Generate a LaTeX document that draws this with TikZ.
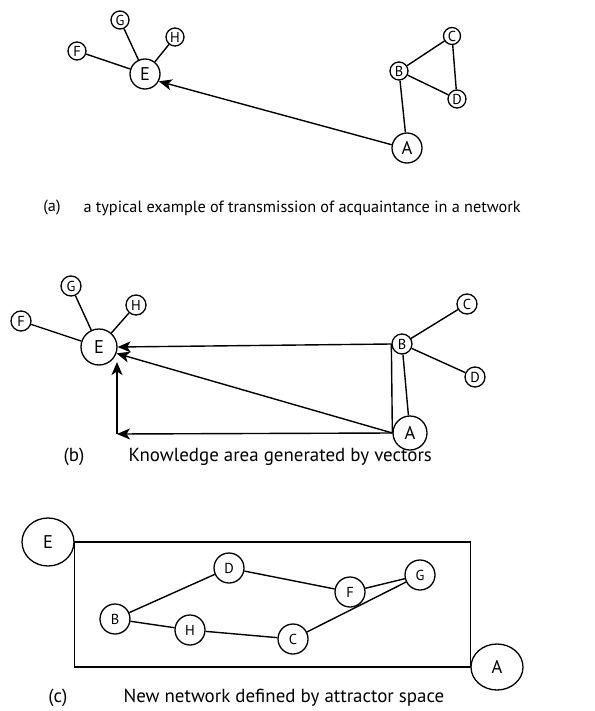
\documentclass[tikz,border=0pt]{standalone}
\usepackage{fontspec}
\setmainfont{PT Sans}
\usetikzlibrary{arrows.meta,shapes.geometric}
\begin{document}
\begin{tikzpicture}[x=1bp,y=-1bp,
  vtx/.style={circle,draw,line width=1.3bp,inner sep=0pt,minimum size=#1},
  sv/.style={vtx=#1,font=\fontsize{14.5}{14.5}\selectfont},
  bv/.style={vtx=#1,font=\fontsize{18.5}{18.5}\selectfont},
  ov/.style={ellipse,draw,line width=1.3bp,inner sep=0pt,font=\fontsize{18.5}{18.5}\selectfont},
  link/.style={line width=1.4bp},
  arr/.style={link,-{Stealth[length=13bp,width=11bp,inset=3.5bp]}},
  capsmall/.style={font=\fontsize{16.3}{16.3}\selectfont},
  capbig/.style={font=\fontsize{19}{19}\selectfont},
]
\useasboundingbox (0,0) rectangle (595,711);

% ---- (a) transmission of acquaintance ----
\node[bv=30bp] (aE) at (145,74) {E};
\node[sv=18bp] (aF) at (77,51) {F};
\node[sv=18bp] (aG) at (120,20) {G};
\node[sv=18bp] (aH) at (175,37) {H};
\node[sv=18bp] (aB) at (399,71) {B};
\node[sv=17bp] (aC) at (452,36) {C};
\node[sv=18bp] (aD) at (457,99) {D};
\node[bv=30bp] (aA) at (407,148) {A};
\draw[link] (aE) -- (aF);
\draw[link] (aE) -- (aG);
\draw[link] (aE) -- (aH);
\draw[link] (aB) -- (aC);
\draw[link] (aB) -- (aD);
\draw[link] (aC) -- (aD);
\draw[link] (aB) -- (aA);
\draw[arr] (aA.168) -- (aE.-28);
\node[capsmall] (capa) at (52,208) {(a)};
\node[capsmall,anchor=west] (capatxt) at (80,208) {a typical example of transmission of acquaintance in a network};

% ---- (b) knowledge area ----
\node[bv=36bp] (bE) at (99,347) {E};
\node[sv=20bp] (bF) at (21,321) {F};
\node[sv=20bp] (bG) at (71,286) {G};
\node[sv=20bp] (bH) at (136,305) {H};
\node[sv=20bp] (bB) at (402,344) {B};
\node[sv=20bp] (bC) at (467,304) {C};
\node[sv=20bp] (bD) at (475,377) {D};
\node[bv=34bp] (bA) at (410,433) {A};
\coordinate (bcorner) at (117,434);
\coordinate (bup) at (117,362);
\draw[link] (bE) -- (bF);
\draw[link] (bE) -- (bG);
\draw[link] (bE) -- (bH);
\draw[link] (bB) -- (bC);
\draw[link] (bB) -- (bD);
\draw[link] (bB) -- (bA);
\draw[link] (bB.west) -- (bA.west);
\draw[arr] (bB.west) -- (bE.east);
\draw[arr] (bA.west) -- (bE.-20);
\draw[arr] (bA.west) -- (bcorner);
\draw[arr] (bcorner) -- (bup);
\node[capbig] (capb) at (74,457) {(b)};
\node[capbig,anchor=west] (capbtxt) at (125,457) {Knowledge area generated by vectors};

% ---- (c) attractor space ----
\node[ov,minimum width=52bp,minimum height=48bp] (cE) at (48,542) {E};
\node[ov,minimum width=52bp,minimum height=46bp] (cA) at (497,667) {A};
\node[sv=30bp] (cB) at (115,619) {B};
\node[sv=30bp] (cD) at (229,568) {D};
\node[sv=30bp] (cH) at (190,630) {H};
\node[sv=30bp] (cC) at (293,639) {C};
\node[sv=30bp] (cF) at (350,592) {F};
\node[sv=30bp] (cG) at (420,575) {G};
\draw[link] (cE.east) -- (cE.east -| cA.west) -- (cA.west) -- (cA.west -| cE.east) -- cycle;
\draw[link] (cB) -- (cD);
\draw[link] (cB) -- (cH);
\draw[link] (cH) -- (cC);
\draw[link] (cD) -- (cF);
\draw[link] (cF) -- (cG);
\draw[link] (cC) -- (cG);
\node[capbig] (capc) at (58,698) {(c)};
\node[capbig,anchor=west] (capctxt) at (120,698) {New network defined by attractor space};
\end{tikzpicture}
\end{document}
